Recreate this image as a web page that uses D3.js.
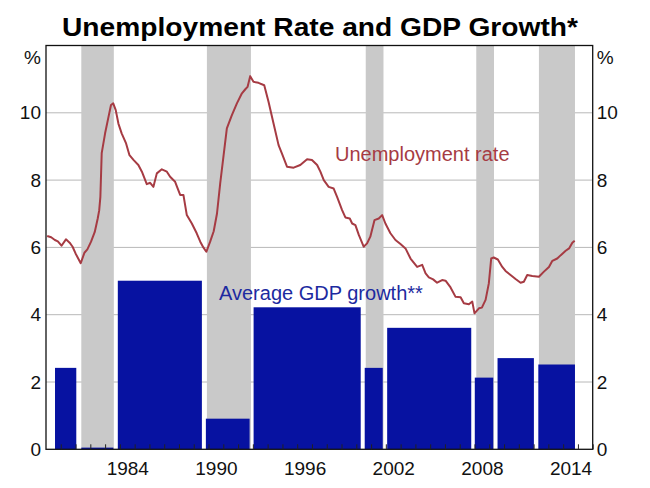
<!DOCTYPE html>
<html>
<head>
<meta charset="utf-8">
<script src="https://cdn.jsdelivr.net/npm/d3@7"></script>
<style>
  html, body { margin: 0; padding: 0; background: #fff; }
  svg { display: block; font-family: "Liberation Sans", Arial, sans-serif; }
</style>
</head>
<body>
<svg id="chart" width="650" height="488"></svg>
<script>
// ---------------- DATA ----------------
const titleText = "Unemployment Rate and GDP Growth*";
const unempLabel = "Unemployment rate";
const gdpLabel = "Average GDP growth**";

// Unemployment rate (per cent)
const unempDates = [
  1979.08, 1979.35, 1979.6, 1979.8, 1980.05, 1980.35, 1980.6, 1980.8, 1981.0, 1981.35,
  1981.6, 1981.8, 1982.05, 1982.3, 1982.5, 1982.6, 1982.68, 1982.77, 1983.0, 1983.23,
  1983.4, 1983.55, 1983.72, 1983.9, 1984.12, 1984.42, 1984.65, 1984.92, 1985.25, 1985.49,
  1985.82, 1986.05, 1986.27, 1986.5, 1986.84, 1987.18, 1987.4, 1987.74, 1987.85, 1988.08,
  1988.3, 1988.53, 1988.87, 1989.2, 1989.44, 1989.65, 1989.85, 1990.11, 1990.35, 1990.57,
  1990.79, 1991.24, 1991.58, 1991.92, 1992.26, 1992.49, 1992.64, 1992.82, 1993.04, 1993.38,
  1993.77, 1994.06, 1994.40, 1994.74, 1994.97, 1995.31, 1995.76, 1996.21, 1996.67, 1997.0,
  1997.35, 1997.57, 1997.8, 1998.13, 1998.47, 1998.7, 1999.04, 1999.26, 1999.56, 1999.72,
  1999.94, 2000.17, 2000.5, 2000.73, 2000.95, 2001.23, 2001.52, 2001.75, 2001.97, 2002.31,
  2002.65, 2002.99, 2003.33, 2003.67, 2004.12, 2004.46, 2004.69, 2004.91, 2005.2, 2005.47,
  2005.81, 2006.04, 2006.38, 2006.72, 2007.06, 2007.28, 2007.62, 2007.85, 2008.0, 2008.3,
  2008.5, 2008.75, 2008.97, 2009.13, 2009.3, 2009.58, 2009.88, 2010.1, 2010.44, 2010.78,
  2011.12, 2011.34, 2011.57, 2011.91, 2012.36, 2012.7, 2013.04, 2013.27, 2013.6, 2013.84,
  2014.17, 2014.4, 2014.62, 2014.78
];
const unempValues = [
  6.34, 6.30, 6.22, 6.18, 6.05, 6.24, 6.14, 6.02, 5.82, 5.53,
  5.84, 5.94, 6.17, 6.46, 6.86, 7.1, 7.5, 8.8, 9.39, 9.88,
  10.23, 10.28, 10.08, 9.68, 9.39, 9.09, 8.74, 8.60, 8.45, 8.25,
  7.88, 7.92, 7.80, 8.20, 8.32, 8.25, 8.10, 7.95, 7.82, 7.56,
  7.56, 6.96, 6.71, 6.42, 6.17, 6.00, 5.87, 6.17, 6.48, 7.00,
  7.90, 9.54, 9.93, 10.28, 10.58, 10.70, 10.77, 11.09, 10.92, 10.89,
  10.82, 10.33, 9.68, 9.04, 8.79, 8.40, 8.37, 8.45, 8.62, 8.60,
  8.45, 8.25, 8.00, 7.80, 7.75, 7.50, 7.11, 6.89, 6.86, 6.71,
  6.66, 6.37, 6.02, 6.12, 6.32, 6.81, 6.86, 6.96, 6.71, 6.42,
  6.22, 6.10, 5.97, 5.67, 5.42, 5.48, 5.23, 5.11, 5.05, 4.95,
  5.03, 5.01, 4.81, 4.53, 4.52, 4.34, 4.31, 4.39, 4.04, 4.19,
  4.21, 4.44, 4.93, 5.67, 5.70, 5.64, 5.42, 5.30, 5.18, 5.06,
  4.95, 4.98, 5.18, 5.15, 5.13, 5.28, 5.42, 5.60, 5.67, 5.77,
  5.90, 5.97, 6.14, 6.20
];

// Average GDP growth over periods (per cent)
const gdpStart  = [1979.61, 1981.39, 1983.86, 1989.82, 1993.05, 2000.57, 2002.09, 2008.02, 2009.56, 2012.32];
const gdpEnd    = [1981.05, 1983.56, 1989.55, 1992.78, 2000.30, 2001.79, 2007.78, 2009.27, 2012.02, 2014.80];
const gdpValues = [2.42, 0.05, 5.01, 0.91, 4.22, 2.42, 3.61, 2.13, 2.71, 2.52];

// Shaded periods
const bandStart = [1981.39, 1989.89, 2000.64, 2008.12, 2012.36];
const bandEnd   = [1983.59, 1992.87, 2001.84, 2009.32, 2014.80];

// Axes
const yTicks = [0, 2, 4, 6, 8, 10];
const gridValues = [2, 4, 6, 8, 10];
const xLabelYears = [1984, 1990, 1996, 2002, 2008, 2014];
const xTickYears = d3.range(1980, 2017);
const xDomain = [1979, 2016];
const yDomain = [0, 12];

// ---------------- LAYOUT ----------------
const L = 46, R = 592.7, T = 45.5, B = 449.3;
const svg = d3.select("#chart");
const x = d3.scaleLinear().domain(xDomain).range([L, R]);
const y = d3.scaleLinear().domain(yDomain).range([B, T]);

const COL_BAND = "#c9c9c9";
const COL_BAR = "#0712a1";
const COL_LINE = "#a63b43";
const COL_GRID = "#b8b8b8";

// gridlines
svg.append("g").selectAll("line").data(gridValues).join("line")
  .attr("x1", L).attr("x2", R)
  .attr("y1", d => y(d)).attr("y2", d => y(d))
  .attr("stroke", COL_GRID).attr("stroke-width", 1);

// shaded bands
svg.append("g").selectAll("rect").data(bandStart).join("rect")
  .attr("x", (d) => x(d))
  .attr("width", (d, i) => x(bandEnd[i]) - x(d))
  .attr("y", T).attr("height", B - T)
  .attr("fill", COL_BAND);

// GDP bars
svg.append("g").selectAll("rect").data(gdpValues).join("rect")
  .attr("x", (d, i) => x(gdpStart[i]))
  .attr("width", (d, i) => x(gdpEnd[i]) - x(gdpStart[i]))
  .attr("y", d => y(d))
  .attr("height", d => B - y(d))
  .attr("fill", COL_BAR);

// unemployment line
const lineData = unempDates.map((d, i) => [d, unempValues[i]]);
svg.append("path").datum(lineData)
  .attr("fill", "none")
  .attr("stroke", COL_LINE)
  .attr("stroke-width", 2)
  .attr("stroke-linejoin", "round")
  .attr("d", d3.line().x(d => x(d[0])).y(d => y(d[1])));

// frame
svg.append("rect")
  .attr("x", L).attr("y", T).attr("width", R - L).attr("height", B - T)
  .attr("fill", "none").attr("stroke", "#111").attr("stroke-width", 1.3);

// bottom inward year ticks
const xTickAxis = d3.axisBottom(x).tickValues(xTickYears).tickSize(-5).tickFormat("");
const gx = svg.append("g").attr("transform", `translate(0,${B})`).call(xTickAxis);
gx.select(".domain").remove();
gx.selectAll(".tick line").attr("stroke", "#222");

// x labels at mid-year
const xLabAxis = d3.axisBottom(x).tickValues(xLabelYears.map(v => v + 0.5))
  .tickSize(0).tickPadding(12).tickFormat(d => String(Math.floor(d)));
const gxl = svg.append("g").attr("transform", `translate(0,${B})`).call(xLabAxis);
gxl.select(".domain").remove();
gxl.selectAll("text").attr("font-size", 19).attr("font-family", "Liberation Sans, Arial, sans-serif").attr("fill", "#111");

// y axes labels
const yl = svg.append("g").attr("transform", `translate(${L},0)`)
  .call(d3.axisLeft(y).tickValues(yTicks).tickSize(0).tickPadding(5).tickFormat(d3.format("d")));
yl.select(".domain").remove();
yl.selectAll("text").attr("font-size", 19).attr("font-family", "Liberation Sans, Arial, sans-serif").attr("fill", "#111");
const yr = svg.append("g").attr("transform", `translate(${R},0)`)
  .call(d3.axisRight(y).tickValues(yTicks).tickSize(0).tickPadding(4).tickFormat(d3.format("d")));
yr.select(".domain").remove();
yr.selectAll("text").attr("font-size", 19).attr("font-family", "Liberation Sans, Arial, sans-serif").attr("fill", "#111");

// % labels
svg.append("text").attr("x", L - 5).attr("y", 57).attr("text-anchor", "end")
  .attr("dominant-baseline", "central").attr("font-size", 19).attr("fill", "#111").text("%");
svg.append("text").attr("x", R + 4).attr("y", 57).attr("text-anchor", "start")
  .attr("dominant-baseline", "central").attr("font-size", 19).attr("fill", "#111").text("%");

// series labels
svg.append("text").attr("x", 335).attr("y", 161).attr("font-size", 20)
  .attr("fill", COL_LINE).text(unempLabel);
svg.append("text").attr("x", 219).attr("y", 299.5).attr("font-size", 20)
  .attr("fill", "#1c2aa0").text(gdpLabel);

// title
const title = svg.append("text").attr("x", 320).attr("y", 36)
  .attr("text-anchor", "middle").attr("font-size", 26).attr("font-weight", "bold")
  .attr("fill", "#000").text(titleText);
title.attr("textLength", 516).attr("lengthAdjust", "spacingAndGlyphs");
</script>
</body>
</html>
